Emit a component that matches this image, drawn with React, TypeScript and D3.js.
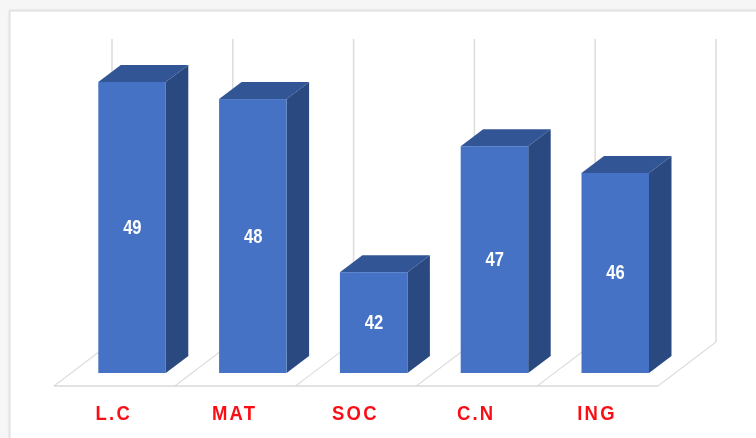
import React from "react";
import * as d3 from "d3";

const categories = ["L.C", "MAT", "SOC", "C.N", "ING"];
const labels = [49, 48, 42, 47, 46];
// Drawn heights (labels appear rounded / not to scale)
const plotted = [49.55, 48.87, 42, 47, 45.94];

const W = 756, H = 438;
const x = d3.scaleBand<string>().domain(categories).range([54, 658]);
const y = d3.scaleLinear().domain([38, 50]).range([373, 70.6]);
const floorDx = 58, floorDy = -44, floorY = 386;
const barOff = 44.3, barW = 67.5, dDx = 22.5, dDy = -17;
const gridTop = 39;
const line = d3.line();

export default function App() {
  const starts = categories.map((c) => x(c) as number);
  const gridXs = [...starts, 658];
  return (
    <svg width={W} height={H} style={{ position: "absolute", left: 0, top: 0, background: "#f6f6f6" }}>
      <defs>
        <filter id="soft" x="-5%" y="-5%" width="110%" height="110%">
          <feGaussianBlur stdDeviation="0.7" />
        </filter>
        <filter id="softCard" x="-5%" y="-5%" width="110%" height="110%">
          <feGaussianBlur stdDeviation="1.2" />
        </filter>
      </defs>
      <rect x={9} y={10} width={770} height={450} fill="#d9d9d9" filter="url(#softCard)" />
      <rect x={10.5} y={11.5} width={770} height={450} fill="#fff" />
      <g filter="url(#soft)">
        {gridXs.map((g, i) => (
          <path key={i} d={line([[g + floorDx, gridTop], [g + floorDx, floorY + floorDy]]) as string}
            stroke="#dedede" strokeWidth={1.6} fill="none" />
        ))}
        {gridXs.map((g, i) => (
          <path key={i} d={line([[g, floorY], [g + floorDx, floorY + floorDy]]) as string}
            stroke="#dcdcdc" strokeWidth={1.1} fill="none" />
        ))}
        <path d={line([[54, floorY], [658, floorY]]) as string} stroke="#d9d9d9" strokeWidth={1.6} fill="none" />
        {categories.map((c, i) => {
          const x0 = (x(c) as number) + barOff;
          const x1 = x0 + barW;
          const top = y(plotted[i]);
          const base = y(38);
          const midX = x0 + barW / 2 + 0.3;
          const midY = (top + base) / 2 + 6.5;
          const labX = (x(c) as number) + x.bandwidth() / 2 - 0.6;
          return (
            <g key={c}>
              <path d={`M${x0},${top}L${x0 + dDx},${top + dDy}L${x1 + dDx},${top + dDy}L${x1},${top}Z`} fill="#325595" />
              <path d={`M${x1},${top}L${x1 + dDx},${top + dDy}L${x1 + dDx},${base + dDy}L${x1},${base}Z`} fill="#2a4a80" />
              <rect x={x0} y={top} width={barW} height={base - top} fill="#4472c4" />
              <text textAnchor="middle"
                fontFamily="'Liberation Sans',Arial,sans-serif" fontWeight={700}
                fontSize={18} fill="#fff" transform={`translate(${midX} ${midY}) scale(0.92 1.1)`}>
                {labels[i]}
              </text>
              <text textAnchor="middle"
                fontFamily="'Liberation Sans',Arial,sans-serif" fontWeight={700} fontSize={18.5}
                letterSpacing={2.2} fill="#fb0f17" transform={`translate(${labX} 420) scale(1 1.12)`}>
                {c}
              </text>
            </g>
          );
        })}
      </g>
    </svg>
  );
}
